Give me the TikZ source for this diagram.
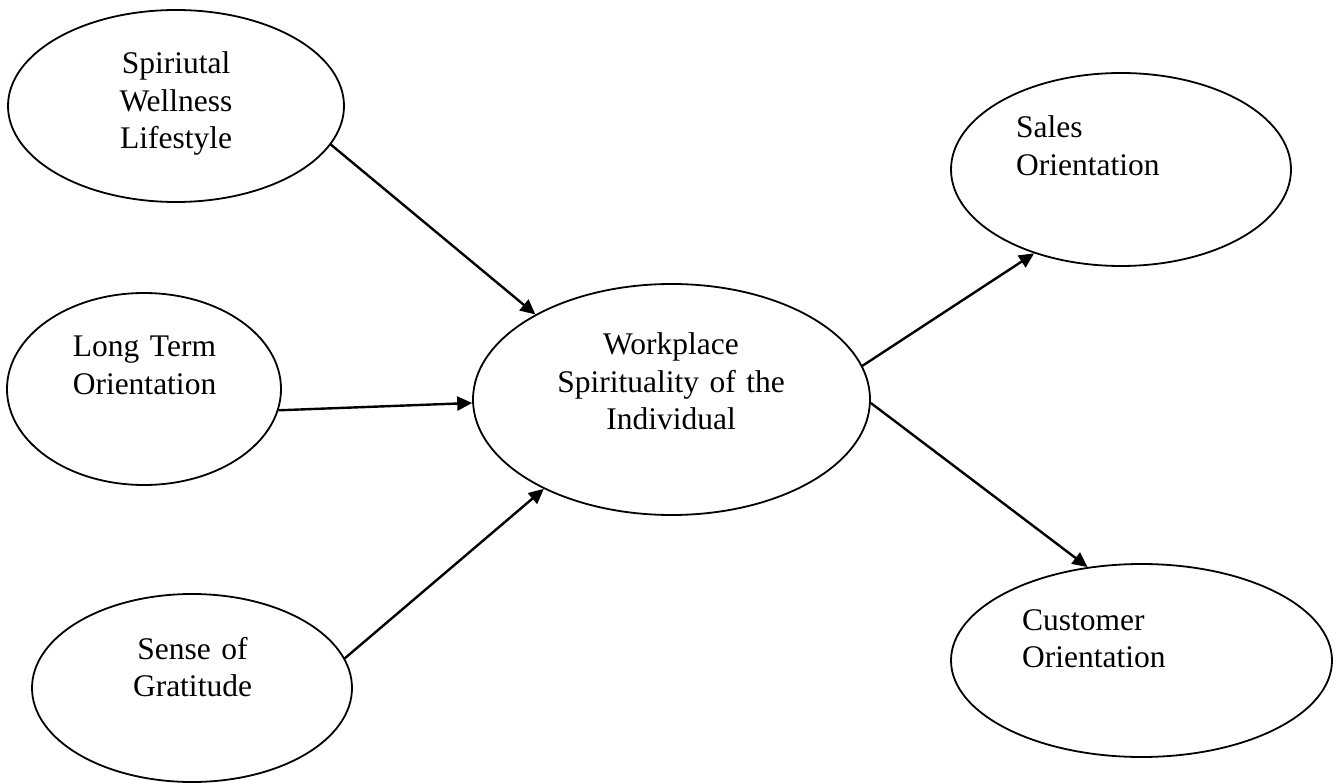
\documentclass[tikz,border=0pt]{standalone}
\usepackage{fontspec}
\setmainfont{Liberation Serif}
\usetikzlibrary{shapes.geometric,arrows.meta}
\begin{document}
\begin{tikzpicture}[x=1pt,y=-1pt,
  ell/.style={draw,ellipse,line width=1.8pt,inner sep=0pt},
  lbl/.style={inner sep=0pt,font=\fontsize{31.5}{37.5}\selectfont,text width=300pt},
  ctr/.style={lbl,align=center,anchor=base},
  lft/.style={lbl,align=left,anchor=base west},
  conn/.style={line width=2.4pt,-{Triangle[length=15pt,width=14pt]}}]
\useasboundingbox (0,0) rectangle (1341,783);
\node[ell,minimum width=336,minimum height=192] (swl) at (176,106) {};
\node[ell,minimum width=274,minimum height=192] (lto) at (144,389) {};
\node[ell,minimum width=320,minimum height=188] (sog) at (192,688) {};
\node[ell,minimum width=397,minimum height=231] (wsi) at (671.5,399.5) {};
\node[ell,minimum width=340,minimum height=193] (sor) at (1121,169.5) {};
\node[ell,minimum width=381,minimum height=193] (cor) at (1141.5,660.5) {};
\node[ctr] (t1) at (176,74) {Spiriutal\\Wellness\\Lifestyle};
\node[ctr] (t2) at (144.5,357) {Long Term\\Orientation};
\node[ctr] (t3) at (192.5,659) {Sense of\\Gratitude};
\node[ctr] (t4) at (671,355) {Workplace\\Spirituality of the\\Individual};
\node[lft] (t5) at (1016,138) {Sales\\Orientation};
\node[lft] (t6) at (1022,630) {Customer\\Orientation};
\draw[conn] (swl.-14) -- (wsi.148.6);
\draw[conn] (lto.-9) -- (wsi.181);
\draw[conn] (sog.11) -- (wsi.-145);
\draw[conn] (wsi.10.5) -- (sor.-136);
\draw[conn] (wsi.-1) -- (cor.120);
\end{tikzpicture}
\end{document}
